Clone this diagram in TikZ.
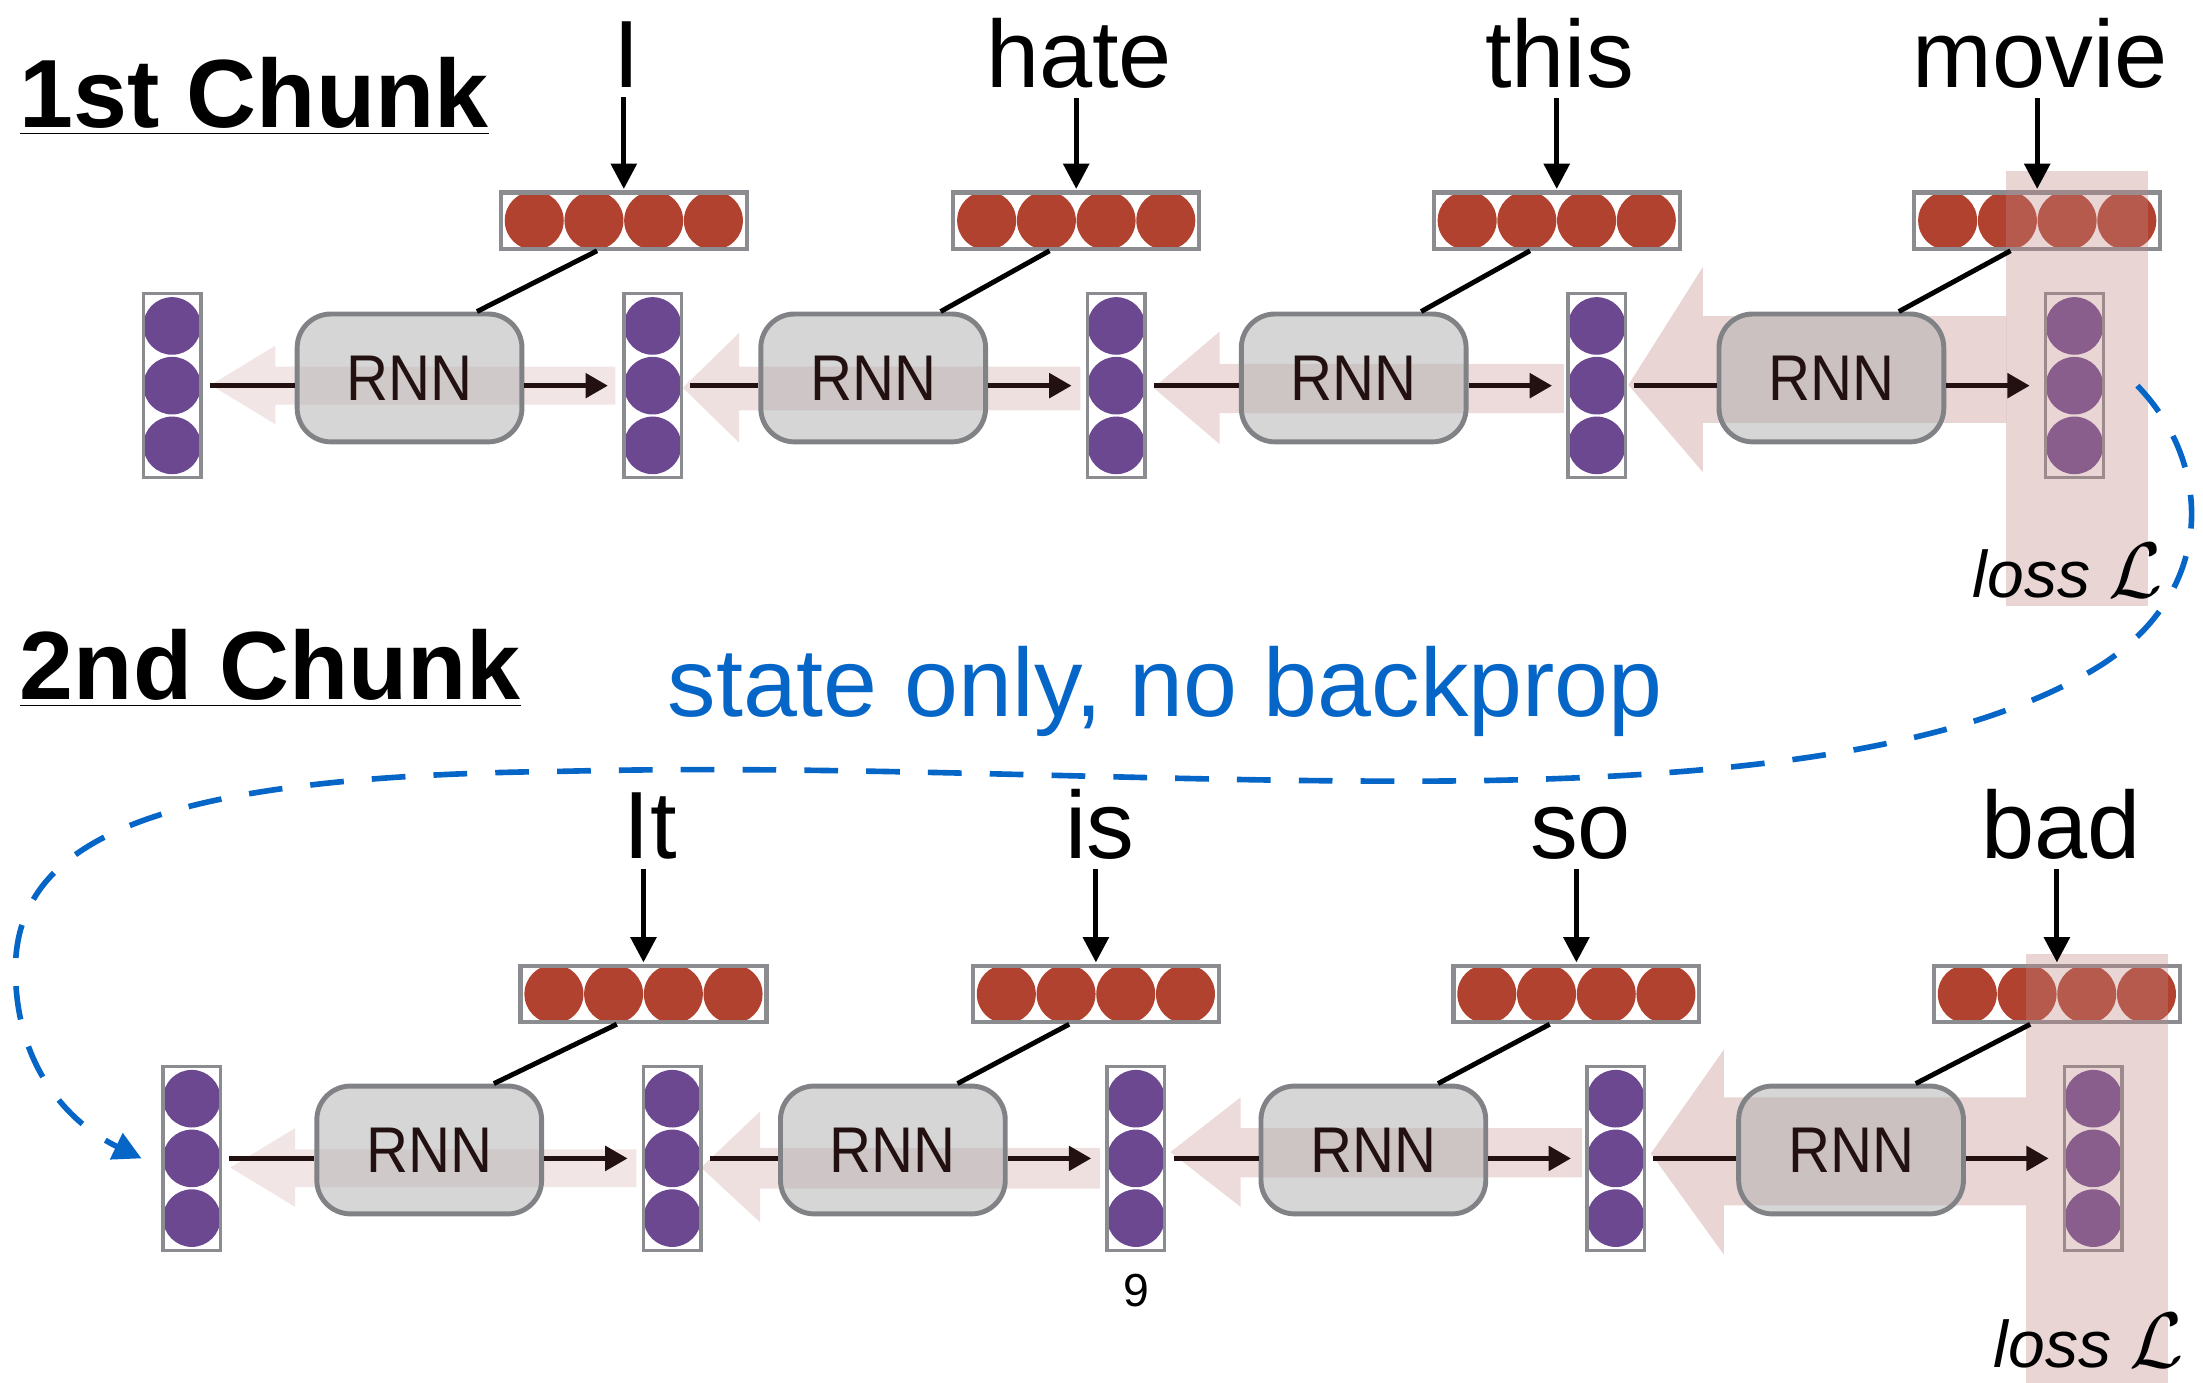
\RequirePackage{fix-cm}
\documentclass[tikz,border=0pt]{standalone}
\usepackage{fontspec}
\setmainfont{Liberation Sans}
\newfontfamily\rnnfamily{Liberation Sans}[FakeStretch=0.9]
\usepackage{xcolor}
\usepackage{tikz}
\usetikzlibrary{positioning, arrows.meta}
\usepackage{amsmath}

\definecolor{cellred}{RGB}{178,66,48}
\definecolor{cellpurple}{RGB}{107,72,144}
\definecolor{framegray}{RGB}{138,140,143}
\definecolor{rnnfill}{RGB}{173,173,173}
\definecolor{rnnedge}{RGB}{128,130,133}
\definecolor{linkdark}{RGB}{35,17,17}
\definecolor{gradpink}{RGB}{195,135,135}
\definecolor{stateblue}{RGB}{5,102,200}

\begin{document}
\begin{tikzpicture}[
    x=1pt, y=-1pt,
    % hidden state and embedding styles
    hidden/.style={
        rectangle, draw=framegray, fill=white, line width=2.5pt,
        minimum width=41pt, minimum height=131pt, inner sep=0pt,
        path picture={
            \fill[cellpurple] (path picture bounding box.center) circle (20.5pt);
            \fill[cellpurple] ([yshift=42.5pt]path picture bounding box.center) circle (20.5pt);
            \fill[cellpurple] ([yshift=-42.5pt]path picture bounding box.center) circle (20.5pt);
        }
    },
    embed/.style={
        rectangle, draw=framegray, fill=white, line width=3pt,
        minimum width=175pt, minimum height=40pt, inner sep=0pt,
        path picture={
            \fill[cellred] ([xshift=-63.75pt]path picture bounding box.center) circle (21pt);
            \fill[cellred] ([xshift=-21.25pt]path picture bounding box.center) circle (21pt);
            \fill[cellred] ([xshift=21.25pt]path picture bounding box.center) circle (21pt);
            \fill[cellred] ([xshift=63.75pt]path picture bounding box.center) circle (21pt);
        }
    },
    rnn/.style={
        rectangle, rounded corners=24pt, draw=rnnedge, line width=3.5pt,
        fill=rnnfill, fill opacity=0.5, text opacity=1, text=linkdark,
        minimum width=160pt, minimum height=91pt,
        font=\rnnfamily\fontsize{46}{50}\selectfont
    },
    word/.style={anchor=base, inner sep=0pt, font=\fontsize{68}{80}\selectfont},
    chunktitle/.style={anchor=base west, inner sep=0pt, font=\fontsize{69}{80}\selectfont\bfseries},
    note/.style={anchor=base west, inner sep=0pt, text=stateblue, font=\fontsize{69}{80}\selectfont},
    losslabel/.style={anchor=base west, inner sep=0pt, font=\fontsize{47}{50}\selectfont},
    backprop/.style={fill=gradpink},
    wordarrow/.style={line width=3.5pt, -{Triangle[length=18pt,width=18pt]}, shorten <=7pt, shorten >=1pt},
    feed/.style={line width=3.5pt},
    link/.style={draw=linkdark, line width=4pt, shorten <=5pt},
    flow/.style={draw=linkdark, line width=4pt, -{Triangle[length=16pt,width=17pt]}, shorten >=10pt},
    carry/.style={draw=stateblue, line width=4pt, dash pattern=on 24pt off 20pt,
        -{Triangle[length=20pt,width=20pt]}}
]
\useasboundingbox (0,0) rectangle (1568,984);

% Titles
\node[chunktitle] (chunkA) at (14,91) {\underline{1st Chunk}};
\node[chunktitle] (chunkB) at (14,498) {\underline{2nd Chunk}};
\node[note] (note) at (475,510) {state only, no backprop};
\node[anchor=base, inner sep=0pt, font=\fontsize{33}{36}\selectfont] (page) at (808.5,930) {9};

% Row 1: hidden states and embeddings
\node[hidden] (h11) at (122.5,274.5) {};
\node[hidden] (h12) at (464.5,274.5) {};
\node[hidden] (h13) at (794.5,274.5) {};
\node[hidden] (h14) at (1136.5,274.5) {};
\node[hidden] (h15) at (1476.5,274.5) {};
\node[embed] (e11) at (444,157) {};
\node[embed] (e12) at (766,157) {};
\node[embed] (e13) at (1108,157) {};
\node[embed] (e14) at (1450,157) {};

% Row 2
\node[hidden] (h21) at (136.5,824.5) {};
\node[hidden] (h22) at (478.5,824.5) {};
\node[hidden] (h23) at (808.5,824.5) {};
\node[hidden] (h24) at (1150,824.5) {};
\node[hidden] (h25) at (1490,824.5) {};
\node[embed] (e21) at (458,707.5) {};
\node[embed] (e22) at (780,707.5) {};
\node[embed] (e23) at (1122,707.5) {};
\node[embed] (e24) at (1464,707.5) {};

% Loss columns and gradient arrows
\fill[backprop, fill opacity=0.35] (1428,122) rectangle (1529,431);
\fill[backprop, fill opacity=0.35] (1428,225) -- (1212,225) -- (1212,190) -- (1159,274) -- (1212,336) -- (1212,301) -- (1428,301) -- cycle;
\fill[backprop, fill opacity=0.3] (1113,259) -- (868,259) -- (868,236) -- (821,276) -- (868,316) -- (868,294) -- (1113,294) -- cycle;
\fill[backprop, fill opacity=0.26] (769,261) -- (526,261) -- (526,237) -- (486,276) -- (526,315) -- (526,292) -- (769,292) -- cycle;
\fill[backprop, fill opacity=0.22] (438,261) -- (196,261) -- (196,246) -- (150,274) -- (196,302) -- (196,288) -- (438,288) -- cycle;
\fill[backprop, fill opacity=0.35] (1442,679) rectangle (1543,984);
\fill[backprop, fill opacity=0.35] (1442,781) -- (1227,781) -- (1227,747) -- (1175,821) -- (1227,893) -- (1227,858) -- (1442,858) -- cycle;
\fill[backprop, fill opacity=0.3] (1126,803) -- (883,803) -- (883,781) -- (833,820) -- (883,859) -- (883,838) -- (1126,838) -- cycle;
\fill[backprop, fill opacity=0.26] (783,817) -- (541,817) -- (541,791) -- (499,831) -- (541,870) -- (541,846) -- (783,846) -- cycle;
\fill[backprop, fill opacity=0.22] (453,818) -- (210,818) -- (210,803) -- (164,831) -- (210,859) -- (210,845) -- (453,845) -- cycle;

% RNN cells
\node[rnn] (r11) at (291.5,269) {RNN};
\node[rnn] (r12) at (621.5,269) {RNN};
\node[rnn] (r13) at (963.5,269) {RNN};
\node[rnn] (r14) at (1303.5,269) {RNN};
\node[rnn] (r21) at (305.5,818.5) {RNN};
\node[rnn] (r22) at (635.5,818.5) {RNN};
\node[rnn] (r23) at (977.5,818.5) {RNN};
\node[rnn] (r24) at (1317.5,818.5) {RNN};

% Words
\node[word] (w11) at (446,62) {I};
\node[word] (w12) at (768,62) {hate};
\node[word] (w13) at (1110,62) {this};
\node[word] (w14) at (1452,62) {movie};
\node[word] (w21) at (463,611) {It};
\node[word] (w22) at (783,611) {is};
\node[word] (w23) at (1125,611) {so};
\node[word] (w24) at (1467,611) {bad};

% Word to embedding
\draw[wordarrow] (w11.south -| e11.north) -- (e11.north);
\draw[wordarrow] (w12.south -| e12.north) -- (e12.north);
\draw[wordarrow] (w13.south -| e13.north) -- (e13.north);
\draw[wordarrow] (w14.south -| e14.north) -- (e14.north);
\draw[wordarrow] (w21.south -| e21.north) -- (e21.north);
\draw[wordarrow] (w22.south -| e22.north) -- (e22.north);
\draw[wordarrow] (w23.south -| e23.north) -- (e23.north);
\draw[wordarrow] (w24.south -| e24.north) -- (e24.north);

% Embedding to RNN
\draw[feed] ([xshift=-19pt]e11.south) -- ([xshift=48pt]r11.north);
\draw[feed] ([xshift=-19pt]e12.south) -- ([xshift=48pt]r12.north);
\draw[feed] ([xshift=-19pt]e13.south) -- ([xshift=48pt]r13.north);
\draw[feed] ([xshift=-19pt]e14.south) -- ([xshift=48pt]r14.north);
\draw[feed] ([xshift=-19pt]e21.south) -- ([xshift=46pt]r21.north);
\draw[feed] ([xshift=-19pt]e22.south) -- ([xshift=46pt]r22.north);
\draw[feed] ([xshift=-19pt]e23.south) -- ([xshift=46pt]r23.north);
\draw[feed] ([xshift=-19pt]e24.south) -- ([xshift=46pt]r24.north);

% Recurrence, row 1
\draw[link] (h11.east) -- (h11.east -| r11.west);
\draw[flow] (r11.east |- h12.west) -- (h12.west);
\draw[link] (h12.east) -- (h12.east -| r12.west);
\draw[flow] (r12.east |- h13.west) -- (h13.west);
\draw[link] (h13.east) -- (h13.east -| r13.west);
\draw[flow] (r13.east |- h14.west) -- (h14.west);
\draw[link] (h14.east) -- (h14.east -| r14.west);
\draw[flow] (r14.east |- h15.west) -- (h15.west);

% Recurrence, row 2
\draw[link] (h21.east) -- (h21.east -| r21.west);
\draw[flow] (r21.east |- h22.west) -- (h22.west);
\draw[link] (h22.east) -- (h22.east -| r22.west);
\draw[flow] (r22.east |- h23.west) -- (h23.west);
\draw[link] (h23.east) -- (h23.east -| r23.west);
\draw[flow] (r23.east |- h24.west) -- (h24.west);
\draw[link] (h24.east) -- (h24.east -| r24.west);
\draw[flow] (r24.east |- h25.west) -- (h25.west);

% Loss labels
\node[losslabel] (lossA) at (1404,425) {\textit{loss} {\fontsize{56}{60}\selectfont$\mathcal{L}$}};
\node[losslabel] (lossB) at (1419,973) {\textit{loss} {\fontsize{56}{60}\selectfont$\mathcal{L}$}};

% State carried over to the next chunk
\draw[carry] ([xshift=23pt]h15.east) .. controls (1575,330) and (1578,420) .. (1496,473)
    .. controls (1390,540) and (1200,556) .. (1000,556)
    .. controls (800,556) and (600,544) .. (400,549)
    .. controls (130,552) and (11,590) .. (11,690)
    .. controls (11,760) and (50,800) .. ([xshift=-14pt]h21.west);
\end{tikzpicture}
\end{document}
